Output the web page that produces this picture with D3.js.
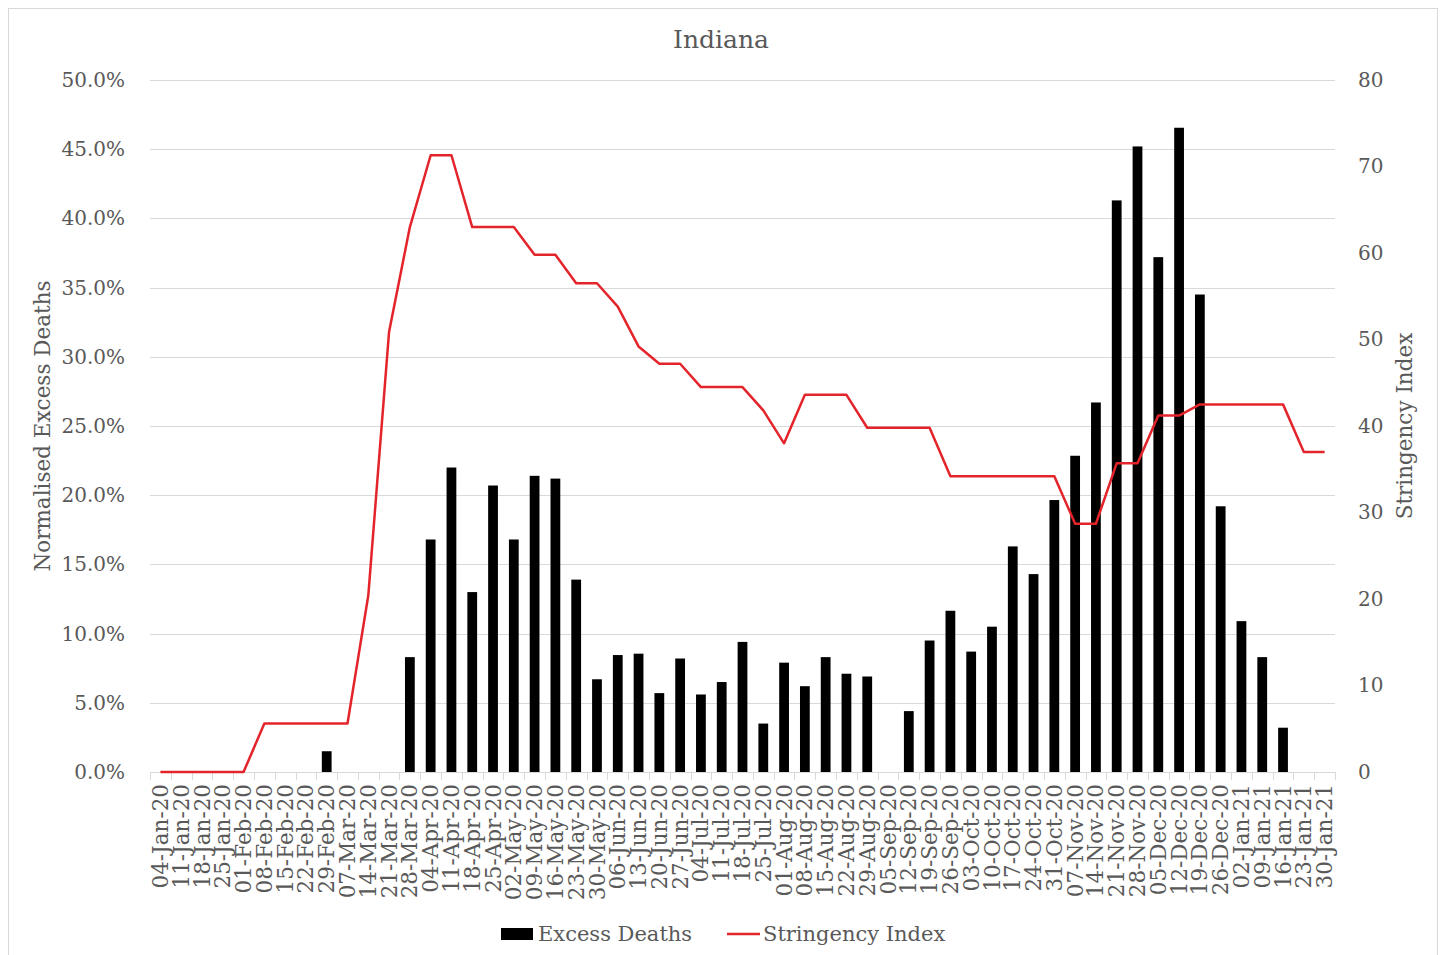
<!DOCTYPE html>
<html>
<head>
<meta charset="utf-8">
<script src="https://cdn.jsdelivr.net/npm/d3@7"></script>
<style>
  body { margin: 0; background: #fff; }
  text { font-family: "DejaVu Serif", "Liberation Serif", serif; fill: #595959; }
</style>
</head>
<body>
<script>
// weekly categories
var weeks = ["04-Jan-20","11-Jan-20","18-Jan-20","25-Jan-20","01-Feb-20","08-Feb-20","15-Feb-20","22-Feb-20","29-Feb-20",
  "07-Mar-20","14-Mar-20","21-Mar-20","28-Mar-20","04-Apr-20","11-Apr-20","18-Apr-20","25-Apr-20",
  "02-May-20","09-May-20","16-May-20","23-May-20","30-May-20","06-Jun-20","13-Jun-20","20-Jun-20","27-Jun-20",
  "04-Jul-20","11-Jul-20","18-Jul-20","25-Jul-20","01-Aug-20","08-Aug-20","15-Aug-20","22-Aug-20","29-Aug-20",
  "05-Sep-20","12-Sep-20","19-Sep-20","26-Sep-20","03-Oct-20","10-Oct-20","17-Oct-20","24-Oct-20","31-Oct-20",
  "07-Nov-20","14-Nov-20","21-Nov-20","28-Nov-20","05-Dec-20","12-Dec-20","19-Dec-20","26-Dec-20",
  "02-Jan-21","09-Jan-21","16-Jan-21","23-Jan-21","30-Jan-21"];

// normalised excess deaths, in %
var excess = [0,0,0,0,0,0,0,0,1.5,
  0,0,0,8.3,16.8,22.0,13.0,20.7,
  16.8,21.4,21.2,13.9,6.7,8.45,8.55,5.7,8.2,
  5.6,6.5,9.4,3.5,7.9,6.2,8.3,7.1,6.9,
  0,4.4,9.5,11.65,8.7,10.5,16.3,14.3,19.65,
  22.85,26.7,41.3,45.2,37.2,46.55,34.5,19.2,
  10.9,8.3,3.2,0,0];

// stringency index
var stringency = [0,0,0,0,0,5.6,5.6,5.6,5.6,
  5.6,20.4,50.9,63.0,71.3,71.3,63.0,63.0,
  63.0,59.8,59.8,56.5,56.5,53.8,49.2,47.2,47.2,
  44.5,44.5,44.5,41.8,38.0,43.6,43.6,43.6,39.8,
  39.8,39.8,39.8,34.2,34.2,34.2,34.2,34.2,34.2,
  28.7,28.7,35.7,35.7,41.2,41.2,42.5,42.5,
  42.5,42.5,42.5,37.0,37.0];

var leftTicks = [0,5,10,15,20,25,30,35,40,45,50];
var rightTicks = [0,10,20,30,40,50,60,70,80];

var W = 1448, H = 955;
var svg = d3.select("body").append("svg")
  .attr("width", W)
  .attr("height", H);

// chart frame
svg.append("rect")
  .attr("x", 8.5).attr("y", 8.5)
  .attr("width", 1429).attr("height", 960)
  .style("fill", "#fff")
  .style("stroke", "#d9d9d9")
  .style("stroke-width", 1);

var plotL = 150, plotR = 1335, plotT = 80, plotB = 772;

var x = d3.scaleBand()
  .domain(weeks)
  .range([plotL, plotR])
  .paddingInner(0.53)
  .paddingOuter(0.265);

var y = d3.scaleLinear().domain([0, 50]).range([plotB, plotT]);
var y2 = d3.scaleLinear().domain([0, 80]).range([plotB, plotT]);

// gridlines
svg.append("g")
  .selectAll("line")
  .data(leftTicks.slice(1))
  .join("line")
  .attr("x1", plotL).attr("x2", plotR)
  .attr("y1", function(d) { return Math.round(y(d)) + 0.5; })
  .attr("y2", function(d) { return Math.round(y(d)) + 0.5; })
  .style("stroke", "#d9d9d9")
  .style("stroke-width", 1);

// left axis
var yAxis = svg.append("g")
  .attr("transform", "translate(" + (plotL - 22) + ",0)")
  .call(d3.axisLeft(y).tickValues(leftTicks).tickSize(0)
    .tickFormat(function(d) { return d.toFixed(1) + "%"; }));
yAxis.select(".domain").remove();
yAxis.selectAll("text").style("font-size", "20px").style("font-family", null);

// right axis
var y2Axis = svg.append("g")
  .attr("transform", "translate(" + (plotR + 20) + ",0)")
  .call(d3.axisRight(y2).tickValues(rightTicks).tickSize(0));
y2Axis.select(".domain").remove();
y2Axis.selectAll("text").style("font-size", "20px").style("font-family", null);

// bars
svg.append("g")
  .selectAll("rect")
  .data(weeks)
  .join("rect")
  .attr("x", function(d) { return x(d); })
  .attr("width", x.bandwidth())
  .attr("y", function(d, i) { return y(excess[i]); })
  .attr("height", function(d, i) { return plotB - y(excess[i]); })
  .style("fill", "#000");

// x axis line and boundary ticks
svg.append("line")
  .attr("x1", plotL).attr("x2", plotR)
  .attr("y1", plotB + 0.5).attr("y2", plotB + 0.5)
  .style("stroke", "#d9d9d9");

var step = x.step();
svg.append("g")
  .selectAll("line")
  .data(d3.range(weeks.length + 1))
  .join("line")
  .attr("x1", function(i) { return Math.round(plotL + i * step) + 0.5; })
  .attr("x2", function(i) { return Math.round(plotL + i * step) + 0.5; })
  .attr("y1", plotB).attr("y2", plotB + 8)
  .style("stroke", "#d9d9d9");

// category labels
var xAxis = svg.append("g")
  .attr("transform", "translate(0," + (plotB + 12) + ")")
  .call(d3.axisBottom(x).tickSize(0));
xAxis.select(".domain").remove();
xAxis.selectAll("text")
  .style("font-size", "21.5px")
  .style("font-family", null)
  .attr("transform", "rotate(-90)")
  .attr("text-anchor", "end")
  .attr("x", 0)
  .attr("y", 0)
  .attr("dy", "0.35em");

// stringency line
var line = d3.line()
  .x(function(d, i) { return x(weeks[i]) + x.bandwidth() / 2; })
  .y(function(d) { return y2(d); });

svg.append("path")
  .datum(stringency)
  .attr("d", line)
  .style("fill", "none")
  .style("stroke", "#e3242b")
  .style("stroke-width", 2.5)
  .style("stroke-linejoin", "round");

// title
svg.append("text")
  .attr("x", 721).attr("y", 48)
  .attr("text-anchor", "middle")
  .style("font-size", "25px")
  .text("Indiana");

// axis titles
svg.append("text")
  .attr("transform", "translate(50,426) rotate(-90)")
  .attr("text-anchor", "middle")
  .style("font-size", "21.5px")
  .text("Normalised Excess Deaths");

svg.append("text")
  .attr("transform", "translate(1412,426) rotate(-90)")
  .attr("text-anchor", "middle")
  .style("font-size", "21.5px")
  .text("Stringency Index");

// legend
var lg = svg.append("g");
lg.append("rect")
  .attr("x", 501).attr("y", 928)
  .attr("width", 32).attr("height", 12)
  .style("fill", "#000");
lg.append("text")
  .attr("x", 538).attr("y", 941)
  .style("font-size", "21px")
  .text("Excess Deaths");
lg.append("line")
  .attr("x1", 727).attr("x2", 760)
  .attr("y1", 934).attr("y2", 934)
  .style("stroke", "#e3242b")
  .style("stroke-width", 2.5);
lg.append("text")
  .attr("x", 763).attr("y", 941)
  .style("font-size", "21px")
  .text("Stringency Index");
</script>
</body>
</html>
